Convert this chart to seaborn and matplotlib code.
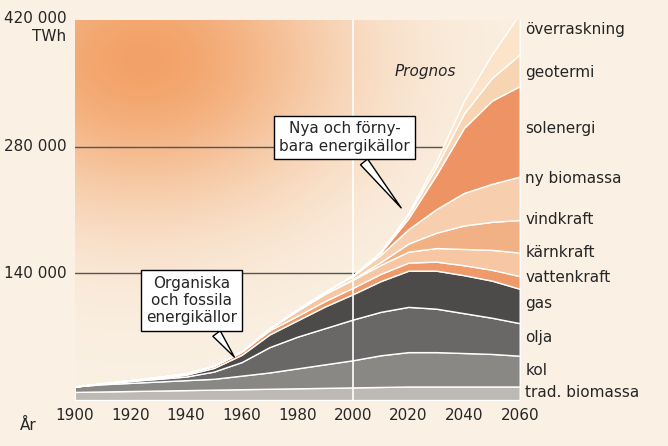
import numpy as np
import matplotlib.pyplot as plt
import seaborn as sns

years = [1900, 1910, 1920, 1930, 1940, 1950, 1960, 1970, 1980, 1990,
         2000, 2010, 2020, 2030, 2040, 2050, 2060]
trad_biomassa = [9000, 9500, 10000, 10500, 11000, 11500, 12000, 12500, 13000, 13500,
                 14000, 14500, 15000, 15000, 15000, 15000, 15000]
kol = [6000, 8000, 9000, 10000, 11000, 12000, 15000, 18000, 22000, 26000,
       30000, 35000, 38000, 38000, 37000, 36000, 34000]
olja = [0, 1000, 2000, 3000, 4000, 8000, 15000, 28000, 35000, 40000,
        45000, 48000, 50000, 48000, 44000, 40000, 36000]
gas = [0, 0, 500, 1000, 2000, 4000, 8000, 14000, 18000, 24000,
       28000, 34000, 40000, 42000, 42000, 41000, 38000]
vattenkraft = [0, 0, 500, 1000, 1500, 2500, 3500, 4500, 5000, 6000,
               7000, 8000, 9000, 10000, 11000, 12000, 14000]
karnkraft = [0, 0, 0, 0, 0, 0, 300, 2000, 6000, 8000,
             9000, 10000, 12000, 15000, 18000, 22000, 26000]
vindkraft = [0, 0, 0, 0, 0, 0, 0, 0, 0, 200,
             800, 3000, 9000, 17000, 26000, 31000, 36000]
ny_biomassa = [0, 0, 0, 0, 0, 0, 0, 0, 1000, 2000,
               3500, 8000, 16000, 26000, 36000, 42000, 48000]
solenergi = [0, 0, 0, 0, 0, 0, 0, 0, 0, 0,
             300, 2500, 12000, 38000, 72000, 92000, 100000]
geotermi = [0, 0, 0, 0, 0, 0, 0, 0, 0, 0,
            0, 800, 4000, 9000, 16000, 25000, 35000]
overraskning = [0, 0, 0, 0, 0, 0, 0, 0, 0, 0,
                0, 300, 2000, 6000, 14000, 26000, 45000]

layers = [trad_biomassa, kol, olja, gas, vattenkraft, karnkraft, vindkraft,
          ny_biomassa, solenergi, geotermi, overraskning]
names = ["trad. biomassa", "kol", "olja", "gas", "vattenkraft", "kärnkraft",
         "vindkraft", "ny biomassa", "solenergi", "geotermi", "överraskning"]
label_y = [8000, 33000, 69000, 107000, 136000, 163000, 200000,
           245000, 300000, 362000, 410000]
colors = ["#bdbab5", "#8a8885", "#6a6866", "#4c4b4a", "#ef9a6a", "#f6c7a2",
          "#f2b184", "#f8cfae", "#ee9464", "#f7d4b2", "#fbe4c9"]

sns.set_style("white")
fig = plt.figure(figsize=(6.68, 4.46), dpi=100)
fig.patch.set_facecolor("#faf1e4")
ax = fig.add_axes([0.112, 0.103, 0.666, 0.852])
ax.set_facecolor("#faf1e4")

# warm glow in the background
gx, gy = np.meshgrid(np.linspace(0, 1, 200), np.linspace(0, 1, 200))
glow = np.exp(-(((gx - 0.15) / 0.45) ** 2 + ((gy - 0.9) / 0.4) ** 2))
bg = np.zeros((200, 200, 4))
bg[..., 0], bg[..., 1], bg[..., 2] = 0.95, 0.6, 0.35
bg[..., 3] = np.clip(glow * 0.9, 0, 1)
ax.imshow(bg, extent=[1900, 2060, 0, 420000], origin="lower", aspect="auto", zorder=0)

for yv in [140000, 280000]:
    ax.axhline(yv, color="#555555", lw=1, zorder=1)
ax.stackplot(years, *layers, colors=colors, zorder=2)
ax.axvline(2000, color="white", lw=1.2, zorder=3)

ax.set_xlim(1900, 2060)
ax.set_ylim(0, 420000)
ax.set_xticks(range(1900, 2061, 20))
ax.tick_params(axis="x", labelsize=11, length=0, pad=6)
ax.set_yticks([])
for s in ax.spines.values():
    s.set_visible(False)
fig.text(0.03, 0.035, "År", fontsize=11)

ax.text(1900 - 3, 412000, "420 000\nTWh", ha="right", va="center", fontsize=11,
        clip_on=False)
for yv, t in [(280000, "280 000"), (140000, "140 000")]:
    ax.text(1900 - 3, yv, t, ha="right", va="center", fontsize=11)

for n, yl in zip(names, label_y):
    ax.text(2062, yl, n, ha="left", va="center", fontsize=11, clip_on=False)

ax.text(2026, 358000, "Prognos", fontsize=11, style="italic", ha="center")

box = dict(boxstyle="square,pad=0.35", fc="white", ec="black", lw=1)
ax.annotate("Nya och förny-\nbara energikällor", xy=(2018, 210000), xytext=(1997, 290000),
            ha="center", va="center", fontsize=11, bbox=box,
            arrowprops=dict(arrowstyle="wedge,tail_width=0.6", fc="white", ec="black"))
ax.annotate("Organiska\noch fossila\nenergikällor", xy=(1958, 45000), xytext=(1942, 110000),
            ha="center", va="center", fontsize=11, bbox=box,
            arrowprops=dict(arrowstyle="wedge,tail_width=0.6", fc="white", ec="black"))

fig.savefig("out.png", dpi=100, facecolor=fig.get_facecolor())
